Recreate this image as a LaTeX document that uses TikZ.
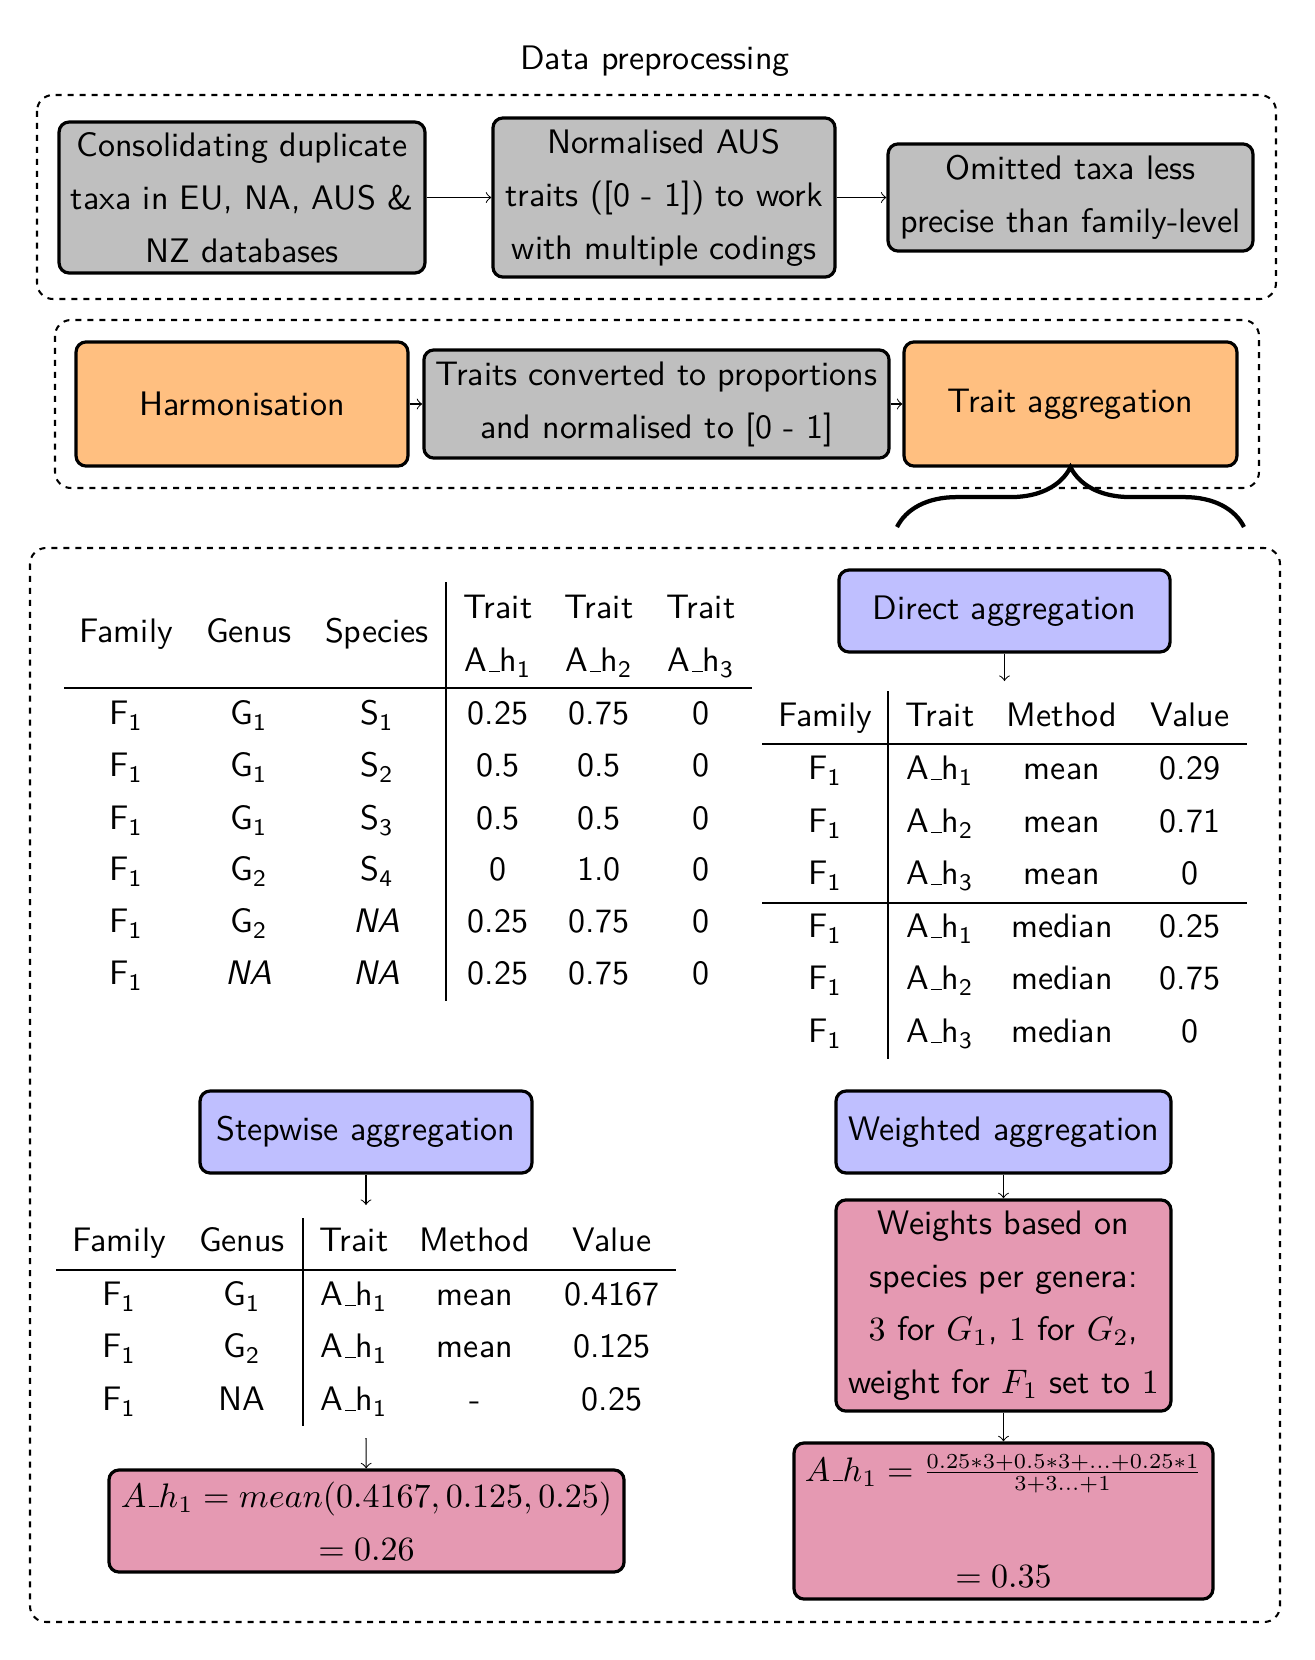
\documentclass[tikz,border=0pt]{standalone}
\usepackage{graphicx}
\renewcommand{\familydefault}{\sfdefault}
\usetikzlibrary{decorations.pathreplacing}
\newcommand{\usc}{\leavevmode\kern.06em\vbox{\hrule width.3em}}
\newcommand{\Ahx}[1]{A\usc h\textsubscript{#1}}
\newcommand{\Sbx}[2]{#1\textsubscript{#2}}
\begin{document}
\begin{tikzpicture}[x=0.2941pt,y=-0.2941pt,
  every node/.style={font=\fontsize{10}{15.6}\selectfont},
  box/.style={draw, line width=0.94pt, rounded corners=2.94pt, align=center, inner sep=1.2pt},
  greybox/.style={box, fill=gray!50},
  orangebox/.style={box, fill=orange!50},
  bluebox/.style={box, fill=blue!25},
  pinkbox/.style={box, fill=purple!40},
  frame/.style={draw, line width=0.6pt, rounded corners=4.7pt, dash pattern=on 1.76pt off 1.76pt},
  conn/.style={->, line width=0.3pt},
  cell/.style={inner sep=0pt, text height=7pt, text depth=2.35pt},
  rule/.style={line width=0.35pt}]
\useasboundingbox (0,0) rectangle (1315,1660);

% ---------- Data preprocessing ----------
\node (title) at (655,61) {Data preprocessing};
\draw[frame] (37,95) rectangle (1276,299);
\node[greybox, minimum width=107.6pt, minimum height=44.4pt] (cons) at (242,197.5)
  {Consolidating duplicate\\taxa in EU, NA, AUS \&\\NZ databases};
\node[greybox, minimum width=100.6pt, minimum height=46.8pt] (norm) at (664,197.5)
  {Normalised AUS\\traits ([0 - 1]) to work\\with multiple codings};
\node[greybox, minimum width=107.3pt, minimum height=31.5pt] (omit) at (1070.5,197.5)
  {Omitted taxa less\\precise than family-level};
\draw[conn] (cons) -- (norm);
\draw[conn] (norm) -- (omit);

% ---------- Harmonisation row ----------
\draw[frame] (55,320) rectangle (1259,488);
\node[orangebox, minimum width=97.6pt, minimum height=36.5pt] (harm) at (242,404) {Harmonisation};
\node[greybox, minimum width=136.8pt, minimum height=31.8pt] (conv) at (656.5,404)
  {Traits converted to proportions\\and normalised to [0 - 1]};
\node[orangebox, minimum width=97.9pt, minimum height=36.5pt] (tagg) at (1070.5,404) {Trait aggregation};
\draw[conn] (harm) -- (conv);
\draw[conn] (conv) -- (tagg);

% brace
\draw[line width=1.25pt, decorate, decoration={brace, amplitude=17.6pt}] (897,527) -- (1244,527);

% ---------- Aggregation frame ----------
\draw[frame] (30,548) rectangle (1280,1622);

% Table 1
\draw[rule] (64,688) -- (752,688);
\draw[rule] (446,582) -- (446,1001);
\node[cell] (t1hA) at (126,635) {Family};
\node[cell] (t1hB) at (249,635) {Genus};
\node[cell] (t1hC) at (377,635) {Species};
\foreach \xx/\k in {498/1,599/2,701/3}{
  \node[cell] (t1ht\k) at (\xx,611) {Trait};
  \node[cell] (t1ha\k) at (\xx,664) {\Ahx{\k}};
}
\foreach [count=\i] \yy/\ca/\cb/\cc/\cd/\ce/\cf in {
  717/\Sbx{F}{1}/\Sbx{G}{1}/\Sbx{S}{1}/0.25/0.75/0,
  769/\Sbx{F}{1}/\Sbx{G}{1}/\Sbx{S}{2}/0.5/0.5/0,
  822/\Sbx{F}{1}/\Sbx{G}{1}/\Sbx{S}{3}/0.5/0.5/0,
  873/\Sbx{F}{1}/\Sbx{G}{2}/\Sbx{S}{4}/0/1.0/0,
  925/\Sbx{F}{1}/\Sbx{G}{2}/\textit{NA}/0.25/0.75/0,
  977/\Sbx{F}{1}/\textit{NA}/\textit{NA}/0.25/0.75/0}{
  \node[cell] (t1r\i a) at (126,\yy) {\ca};
  \node[cell] (t1r\i b) at (249,\yy) {\cb};
  \node[cell] (t1r\i c) at (377,\yy) {\cc};
  \node[cell] (t1r\i d) at (498,\yy) {\cd};
  \node[cell] (t1r\i e) at (599,\yy) {\ce};
  \node[cell] (t1r\i f) at (701,\yy) {\cf};
}

% Direct aggregation
\node[bluebox, minimum width=97.4pt, minimum height=24.1pt] (direct) at (1004.5,611) {Direct aggregation};
\coordinate (t2top) at (1004.5,681);
\draw[conn] (direct) -- (t2top);
\draw[rule] (762,744) -- (1247,744);
\draw[rule] (762,903) -- (1247,903);
\draw[rule] (888,691) -- (888,1059);
\node[cell] (t2hA) at (825,719) {Family};
\node[cell] (t2hB) at (940,719) {Trait};
\node[cell] (t2hC) at (1062,719) {Method};
\node[cell] (t2hD) at (1190,719) {Value};
\foreach [count=\i] \yy/\cb/\cc/\cd in {
  772/\Ahx{1}/mean/0.29,
  825/\Ahx{2}/mean/0.71,
  877/\Ahx{3}/mean/0,
  930/\Ahx{1}/median/0.25,
  982/\Ahx{2}/median/0.75,
  1035/\Ahx{3}/median/0}{
  \node[cell] (t2r\i a) at (825,\yy) {\Sbx{F}{1}};
  \node[cell] (t2r\i b) at (940,\yy) {\cb};
  \node[cell] (t2r\i c) at (1062,\yy) {\cc};
  \node[cell] (t2r\i d) at (1190,\yy) {\cd};
}

% Stepwise aggregation
\node[bluebox, minimum width=97.6pt, minimum height=24.1pt] (step) at (366,1132) {Stepwise aggregation};
\coordinate (t3top) at (366,1205);
\draw[conn] (step) -- (t3top);
\draw[rule] (56,1270) -- (676,1270);
\draw[rule] (303,1218) -- (303,1426);
\node[cell] (t3hA) at (119,1244) {Family};
\node[cell] (t3hB) at (242,1244) {Genus};
\node[cell] (t3hC) at (354,1244) {Trait};
\node[cell] (t3hD) at (475,1244) {Method};
\node[cell] (t3hE) at (612,1244) {Value};
\foreach [count=\i] \yy/\cb/\cd/\ce in {
  1298/\Sbx{G}{1}/mean/0.4167,
  1350/\Sbx{G}{2}/mean/0.125,
  1403/NA/-/0.25}{
  \node[cell] (t3r\i a) at (119,\yy) {\Sbx{F}{1}};
  \node[cell] (t3r\i b) at (242,\yy) {\cb};
  \node[cell] (t3r\i c) at (354,\yy) {\Ahx{1}};
  \node[cell] (t3r\i d) at (475,\yy) {\cd};
  \node[cell] (t3r\i e) at (612,\yy) {\ce};
}
\coordinate (t3bot) at (366,1438);
\node[pinkbox, minimum width=151.5pt, minimum height=30pt] (res1) at (366.5,1521)
  {$A\usc h_1 = mean(0.4167, 0.125, 0.25)$\\$= 0.26$};
\draw[conn] (t3bot) -- (res1);

% Weighted aggregation
\node[bluebox, minimum width=98.5pt, minimum height=24.1pt] (weighted) at (1003.5,1132) {Weighted aggregation};
\node[pinkbox, minimum width=98.5pt, minimum height=62.1pt] (weights) at (1003.5,1305.5)
  {Weights based on\\species per genera:\\$3$ for $G_1$, $1$ for $G_2$,\\weight for $F_1$ set to $1$};
\node[pinkbox, minimum width=123.2pt, minimum height=45.9pt] (res2) at (1003.5,1521)
  {$A\usc h_1 = {}$\raisebox{0.3pt}{\scalebox{0.9}{$\frac{0.25*3+0.5*3+...+0.25*1}{3+3...+1}$}}\\\mbox{}\\$= 0.35$};
\draw[conn] (weighted) -- (weights);
\draw[conn] (weights) -- (res2);
\end{tikzpicture}
\end{document}
